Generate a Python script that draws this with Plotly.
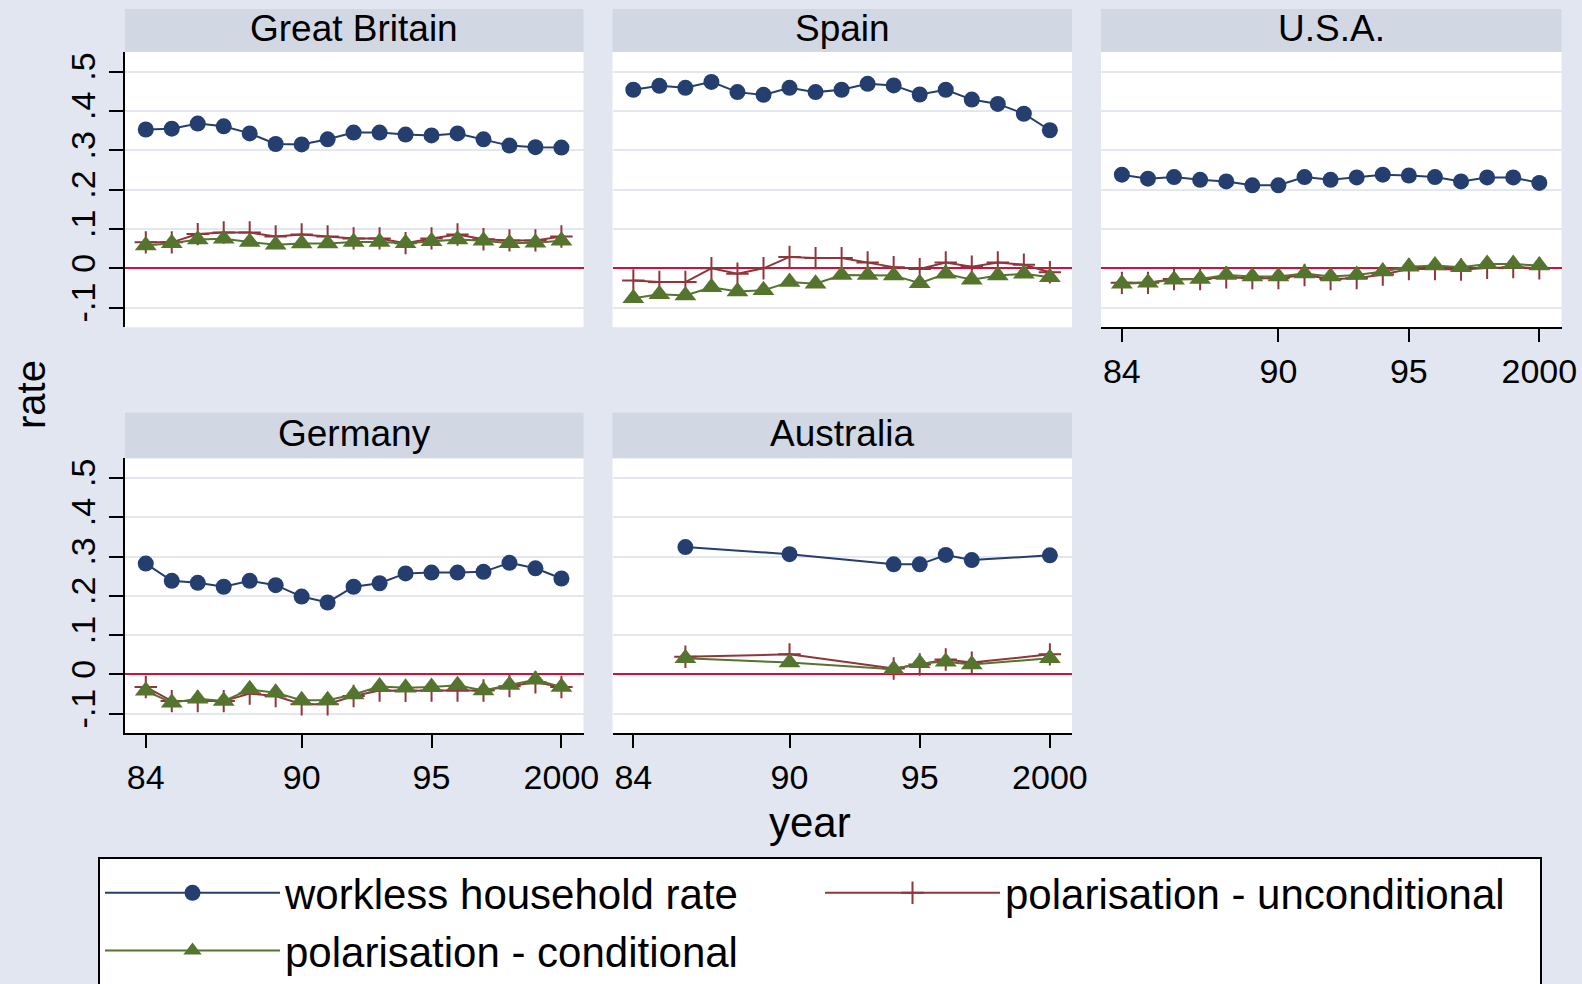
import plotly.graph_objects as go

# ---- data ----
years = list(range(1984, 2001))
aus_years = [1986, 1990, 1994, 1995, 1996, 1997, 2000]

gb_workless = [0.353, 0.355, 0.368, 0.361, 0.343, 0.316, 0.315, 0.328, 0.345, 0.345, 0.340, 0.338, 0.343, 0.328, 0.312, 0.308, 0.307]
gb_uncond = [0.066, 0.066, 0.087, 0.091, 0.091, 0.081, 0.086, 0.081, 0.076, 0.076, 0.064, 0.076, 0.086, 0.074, 0.071, 0.071, 0.081]
gb_cond = [0.058, 0.064, 0.073, 0.075, 0.067, 0.060, 0.063, 0.063, 0.067, 0.067, 0.064, 0.069, 0.073, 0.070, 0.064, 0.065, 0.070]

es_workless = [0.454, 0.464, 0.459, 0.474, 0.448, 0.441, 0.459, 0.448, 0.454, 0.469, 0.465, 0.442, 0.454, 0.429, 0.418, 0.393, 0.351]
es_uncond = [-0.031, -0.035, -0.035, 0.000, -0.014, 0.000, 0.029, 0.026, 0.026, 0.015, 0.003, -0.002, 0.015, 0.004, 0.015, 0.009, -0.010]
es_cond = [-0.076, -0.066, -0.069, -0.048, -0.059, -0.056, -0.035, -0.039, -0.017, -0.017, -0.018, -0.038, -0.014, -0.029, -0.018, -0.014, -0.023]

us_workless = [0.238, 0.228, 0.232, 0.225, 0.221, 0.211, 0.211, 0.232, 0.225, 0.231, 0.238, 0.236, 0.232, 0.221, 0.231, 0.231, 0.217]
us_uncond = [-0.037, -0.037, -0.027, -0.027, -0.023, -0.025, -0.025, -0.017, -0.027, -0.025, -0.016, -0.002, -0.002, -0.003, 0.001, 0.003, 0.000]
us_cond = [-0.039, -0.037, -0.029, -0.027, -0.017, -0.021, -0.021, -0.013, -0.021, -0.017, -0.008, 0.004, 0.007, 0.003, 0.011, 0.011, 0.007]

de_workless = [0.282, 0.238, 0.233, 0.223, 0.238, 0.227, 0.198, 0.183, 0.223, 0.232, 0.257, 0.259, 0.259, 0.261, 0.284, 0.270, 0.244]
de_uncond = [-0.032, -0.068, -0.068, -0.068, -0.049, -0.055, -0.076, -0.076, -0.055, -0.041, -0.042, -0.041, -0.041, -0.041, -0.030, -0.020, -0.032]
de_cond = [-0.042, -0.072, -0.062, -0.068, -0.038, -0.047, -0.066, -0.066, -0.051, -0.031, -0.034, -0.032, -0.028, -0.041, -0.027, -0.014, -0.032]

au_workless = [0.324, 0.306, 0.280, 0.280, 0.304, 0.291, 0.303]
au_uncond = [0.045, 0.051, 0.015, 0.025, 0.038, 0.030, 0.051]
au_cond = [0.041, 0.030, 0.013, 0.028, 0.032, 0.025, 0.041]

series_names = ["workless household rate", "polarisation - unconditional", "polarisation - conditional"]
ytick_vals = [-0.1, 0, 0.1, 0.2, 0.3, 0.4, 0.5]
ytick_text = ["-.1", "0", ".1", ".2", ".3", ".4", ".5"]
xtick_vals = [1984, 1990, 1995, 2000]
xtick_text = ["84", "90", "95", "2000"]

# ---- layout helpers ----
W, H = 1582, 984
BG = "#e1e6f0"
STRIP = "#d1d8e4"
GRID = "#e3e7ef"
FONT = "Liberation Sans, Arial, sans-serif"
NAVY, MAROON, GREEN = "#243e70", "#90353b", "#55752f"

cols = [(125, 583.5), (612.5, 1072), (1101, 1561.5)]
rows = [(52, 327.3), (458.3, 733.3)]
strips = [(9, 52), (412.7, 458.3)]

# (title, row, col, x, workless, uncond, cond, show_y, show_x)
panels = [
    ("Great Britain", 0, 0, years, gb_workless, gb_uncond, gb_cond, True, False),
    ("Spain", 0, 1, years, es_workless, es_uncond, es_cond, False, False),
    ("U.S.A.", 0, 2, years, us_workless, us_uncond, us_cond, False, True),
    ("Germany", 1, 0, years, de_workless, de_uncond, de_cond, True, True),
    ("Australia", 1, 1, aus_years, au_workless, au_uncond, au_cond, False, True),
]

fig = go.Figure()
shapes = []
annotations = []

for i, (title, r, c, xs, wk, un, co, show_y, show_x) in enumerate(panels):
    n = "" if i == 0 else str(i + 1)
    xa, ya = "x" + n, "y" + n
    first = i == 0
    fig.add_trace(go.Scatter(x=xs, y=wk, xaxis=xa, yaxis=ya, mode="lines+markers",
                             name=series_names[0], legendgroup="a", showlegend=first,
                             line=dict(color=NAVY, width=2),
                             marker=dict(symbol="circle", size=16, color=NAVY)))
    fig.add_trace(go.Scatter(x=xs, y=un, xaxis=xa, yaxis=ya, mode="lines+markers",
                             name=series_names[1], legendgroup="b", showlegend=first,
                             line=dict(color=MAROON, width=2),
                             marker=dict(symbol="cross-thin", size=16, color=MAROON,
                                         line=dict(color=MAROON, width=2))))
    fig.add_trace(go.Scatter(x=xs, y=co, xaxis=xa, yaxis=ya, mode="lines+markers",
                             name=series_names[2], legendgroup="c", showlegend=first,
                             line=dict(color=GREEN, width=2),
                             marker=dict(symbol="triangle-up", size=19, color=GREEN)))

    x0, x1 = cols[c]
    y0, y1 = rows[r]
    xdom = [x0 / W, x1 / W]
    ydom = [1 - y1 / H, 1 - y0 / H]
    fig.layout["xaxis" + n] = dict(
        domain=xdom, anchor=ya, range=[1983.2, 2000.85],
        tickvals=xtick_vals, ticktext=xtick_text,
        showticklabels=show_x, ticks="outside" if show_x else "",
        ticklen=13, tickwidth=2, tickcolor="black",
        showline=show_x, linecolor="black", linewidth=2,
        showgrid=False, zeroline=False,
        tickfont=dict(size=34, color="black", family=FONT),
    )
    fig.layout["yaxis" + n] = dict(
        domain=ydom, anchor=xa, range=[-0.15, 0.55],
        tickvals=ytick_vals, ticktext=ytick_text,
        showticklabels=show_y, ticks="outside" if show_y else "",
        ticklen=14, tickwidth=2, tickcolor="black", tickangle=-90,
        showline=show_y, linecolor="black", linewidth=2,
        showgrid=True, gridcolor=GRID, gridwidth=2,
        zeroline=True, zerolinecolor="#c8143c", zerolinewidth=2,
        tickfont=dict(size=34, color="black", family=FONT),
    )
    sy0, sy1 = strips[r]
    shapes.append(dict(type="rect", xref="paper", yref="paper",
                       x0=xdom[0], x1=xdom[1], y0=1 - sy1 / H, y1=1 - sy0 / H,
                       fillcolor=STRIP, line=dict(width=0), layer="below"))
    annotations.append(dict(text=title, xref="paper", yref="paper",
                            x=(xdom[0] + xdom[1]) / 2, y=1 - ((sy0 + sy1) / 2 - 2) / H,
                            xanchor="center", yanchor="middle", showarrow=False,
                            font=dict(size=37, color="black", family=FONT)))

annotations.append(dict(text="rate", xref="paper", yref="paper", x=31 / W, y=1 - 395 / H,
                        textangle=-90, showarrow=False, xanchor="center", yanchor="middle",
                        font=dict(size=40, color="black", family=FONT)))
annotations.append(dict(text="year", xref="paper", yref="paper", x=810 / W, y=1 - 822 / H,
                        showarrow=False, xanchor="center", yanchor="middle",
                        font=dict(size=42, color="black", family=FONT)))

fig.update_layout(
    width=W, height=H,
    margin=dict(l=0, r=0, t=0, b=0, autoexpand=False),
    paper_bgcolor=BG, plot_bgcolor="white",
    shapes=shapes, annotations=annotations,
    showlegend=True,
    legend=dict(orientation="h", x=98 / W, y=1 - 857 / H, xanchor="left", yanchor="top",
                bgcolor="white", bordercolor="black", borderwidth=2,
                entrywidth=530, entrywidthmode="pixels", itemwidth=175,
                font=dict(size=42, color="black", family=FONT),
                traceorder="normal"),
)

fig.write_html("out.html", config={"displayModeBar": False},
               post_script="document.body.style.margin='0';")
